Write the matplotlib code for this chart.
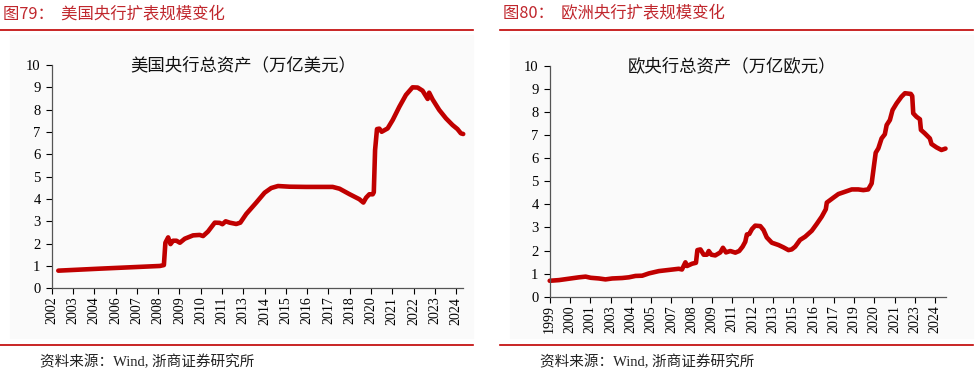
import matplotlib
matplotlib.use("Agg")
import matplotlib.pyplot as plt
from matplotlib.patches import Rectangle
from matplotlib.lines import Line2D

plt.rcParams["font.family"] = ["Liberation Serif", "Noto Sans CJK SC"]
plt.rcParams["axes.unicode_minus"] = False

RED = "#C00000"
CJK = ["Noto Sans CJK SC", "DejaVu Sans"]
SERIF_CJK = ["Liberation Serif", "Noto Sans CJK SC"]

# 美国央行总资产（万亿美元），x 为类别轴上的位置（刻度间隔单位）
us_labels = ["2002", "2003", "2004", "2006", "2007", "2008", "2009", "2010", "2011", "2013",
             "2014", "2015", "2016", "2017", "2018", "2020", "2021", "2022", "2023", "2024"]
us_x = [0.31, 2.27, 5.08, 5.27, 5.34, 5.47, 5.58, 5.70, 5.86, 6.02, 6.25, 6.64, 6.95, 7.11,
        7.34, 7.66, 7.89, 8.02, 8.17, 8.36, 8.67, 8.86, 9.14, 9.61, 10.0, 10.31, 10.63, 11.17,
        11.95, 12.58, 13.20, 13.52, 13.98, 14.45, 14.64, 14.77, 14.92, 15.08, 15.13, 15.19,
        15.28, 15.39, 15.50, 15.78, 16.02, 16.33, 16.64, 16.95, 17.19, 17.42, 17.66, 17.73,
        17.89, 18.20, 18.52, 18.83, 19.06, 19.22, 19.33]
us_val = [0.79, 0.88, 1.0, 1.04, 2.04, 2.28, 1.98, 2.13, 2.13, 2.04, 2.22, 2.37, 2.39, 2.34,
          2.54, 2.94, 2.93, 2.87, 3.0, 2.94, 2.88, 2.94, 3.33, 3.84, 4.28, 4.49, 4.58, 4.55,
          4.54, 4.54, 4.54, 4.46, 4.22, 3.99, 3.84, 4.06, 4.21, 4.21, 4.3, 6.19,
          7.13, 7.15, 7.01, 7.16, 7.54, 8.13, 8.66, 9.0, 8.99, 8.85, 8.48, 8.76,
          8.46, 7.99, 7.61, 7.31, 7.13, 6.94, 6.91]

# 欧央行总资产（万亿欧元）
eu_labels = ["1999", "2000", "2001", "2003", "2004", "2005", "2007", "2008", "2009", "2011",
             "2012", "2013", "2015", "2016", "2017", "2019", "2020", "2021", "2023", "2024"]
eu_x = [0, 0.46, 0.95, 1.44, 1.77, 2.02, 2.43, 2.75, 3.08, 3.57, 3.90, 4.23, 4.56, 4.89,
        5.38, 5.87, 6.36, 6.52, 6.69, 6.77, 7.02, 7.21, 7.28, 7.43, 7.59, 7.75, 7.84, 7.97,
        8.16, 8.41, 8.54, 8.69, 8.90, 9.15, 9.34, 9.51, 9.64, 9.72, 9.84, 9.97, 10.13, 10.38,
        10.54, 10.70, 10.95, 11.28, 11.52, 11.77, 11.93, 12.10, 12.34, 12.59, 12.92, 13.16,
        13.41, 13.61, 13.66, 13.98, 14.23, 14.56, 14.89, 15.21, 15.46, 15.70, 15.87, 16.0,
        16.07, 16.20, 16.36, 16.52, 16.61, 16.77, 16.90, 17.10, 17.34, 17.51, 17.80, 17.87,
        17.92, 18.08, 18.25, 18.30, 18.49, 18.74, 18.82, 19.07, 19.31, 19.51]
eu_val = [0.69, 0.72, 0.78, 0.84, 0.87, 0.82, 0.79, 0.75, 0.79, 0.81, 0.84, 0.90, 0.91, 1.01,
          1.11, 1.16, 1.21, 1.18, 1.49, 1.33, 1.43, 1.47, 2.02, 2.05, 1.82, 1.82, 1.98, 1.82,
          1.79, 1.92, 2.12, 1.92, 1.98, 1.91, 1.98, 2.17, 2.38, 2.70, 2.72, 2.93, 3.08, 3.06,
          2.89, 2.57, 2.34, 2.24, 2.14, 2.02, 2.05, 2.17, 2.46, 2.60, 2.86, 3.15,
          3.47, 3.79, 4.08, 4.29, 4.45, 4.55, 4.65, 4.65, 4.62, 4.65, 4.91, 5.78,
          6.24, 6.43, 6.86, 7.04, 7.44, 7.66, 8.09, 8.38, 8.67, 8.82, 8.79, 8.70,
          7.95, 7.80, 7.69, 7.23, 7.08, 6.86, 6.62, 6.47, 6.36, 6.42]

W, H = 978, 388
fig = plt.figure(figsize=(W / 100, H / 100), dpi=100)


def fx(px):
    return px / W


def fy(py):
    return 1 - py / H


def panel(x0, heading, title, labels, xs, ys, rect, xmax, title_x):
    # 浅灰背景与红色分隔线
    fig.patches.append(Rectangle((fx(x0 + 10), fy(338)), fx(463), fy(35) - fy(338),
                                 transform=fig.transFigure, color="#FAFAFA", zorder=-5))
    for y in (30, 345):
        fig.add_artist(Line2D([fx(x0), fx(x0 + 473)], [fy(y), fy(y)], color=RED, lw=1.2))
    fig.text(fx(x0 + 3), fy(14), heading, family=CJK, fontsize=11.8, color="#C0272D", va="center")
    fig.text(fx(x0 + 40), fy(362), "资料来源：Wind, 浙商证券研究所", family=SERIF_CJK,
             fontsize=10.5, color="#222222", va="center")

    ax = fig.add_axes(rect)
    ax.set_zorder(2)
    ax.patch.set_alpha(0)
    ax.plot(xs, ys, color=RED, lw=3.3, solid_capstyle="round", solid_joinstyle="round",
            clip_on=False)
    ax.set_xlim(0, xmax)
    ax.set_ylim(0, 10)
    ax.set_yticks(range(0, 11))
    ax.set_xticks(range(len(labels)))
    ax.set_xticklabels(labels, rotation=90, fontsize=10)
    ax.tick_params(axis="y", labelsize=10.5, length=4, width=0.8, pad=4)
    ax.tick_params(axis="x", length=4, width=0.8, pad=2)
    for s in ("top", "right"):
        ax.spines[s].set_visible(False)
    for s in ("left", "bottom"):
        ax.spines[s].set_color("#555555")
        ax.spines[s].set_linewidth(0.9)
    ax.text(title_x, 1.0, title, transform=ax.transAxes, family=CJK, fontsize=12.5,
            ha="center", va="center", color="#111111")
    return ax


panel(0, "图79：  美国央行扩表规模变化", "美国央行总资产（万亿美元）", us_labels, us_x, us_val,
      [fx(51.7), fy(288.3), fx(463) - fx(51.7), fy(65) - fy(288.3)], 19.32, 0.465)
panel(489 + 11, "图80：  欧洲央行扩表规模变化", "欧央行总资产（万亿欧元）", eu_labels, eu_x, eu_val,
      [fx(549.7), fy(296.7), fx(946.3) - fx(549.7), fy(66) - fy(296.7)], 19.55, 0.46)

fig.savefig("out.png", dpi=100)
